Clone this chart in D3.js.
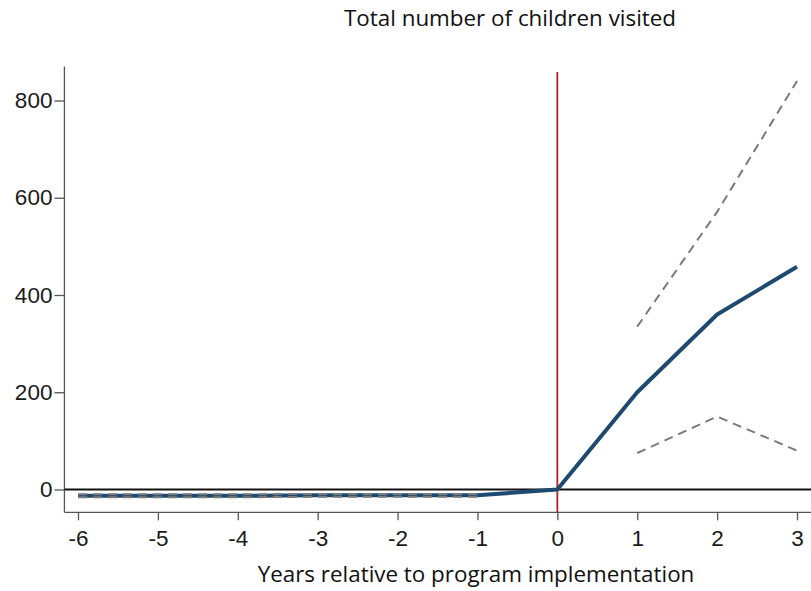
<!DOCTYPE html>
<html>
<head>
<meta charset="utf-8">
<script src="https://cdn.jsdelivr.net/npm/d3@7/dist/d3.min.js"></script>
<style>
  html, body { margin: 0; padding: 0; background: #fff; }
  svg { display: block; }
</style>
</head>
<body>
<svg id="chart" width="811" height="591"></svg>
<script>
// Event-study estimates: years relative to program start
const years = [-6, -5, -4, -3, -2, -1, 0, 1, 2, 3];
const estimate = [-13, -13, -13, -12, -12, -12, 0, 200, 360, 458];
const upperCI = [-10, -10, -10, -9, -9, -9, null, 335, 571, 840];
const lowerCI = [-16, -16, -16, -15, -15, -15, null, 75, 150, 80];
const yTicks = [0, 200, 400, 600, 800];
const xTicks = [-6, -5, -4, -3, -2, -1, 0, 1, 2, 3];
const title = "Total number of children visited";
const xTitle = "Years relative to program implementation";

const svg = d3.select("#chart");
const W = 811;

const x = d3.scaleLinear().domain([-6, 3]).range([78, 797]);
const y = d3.scaleLinear().domain([0, 800]).range([489.5, 100.5]);

const plotLeft = x(-6.17), plotBottom = y(-47), plotTop = y(870);

// Axes
const yAxis = svg.append("g").attr("transform", `translate(${plotLeft},0)`)
  .call(d3.axisLeft(y).tickValues(yTicks).tickSize(10).tickPadding(2));
yAxis.select(".domain").remove();
svg.append("line").attr("x1", plotLeft).attr("x2", plotLeft).attr("y1", plotTop).attr("y2", plotBottom)
  .attr("stroke", "#555").attr("stroke-width", 1.3);

const xAxis = svg.append("g").attr("transform", `translate(0,${plotBottom})`)
  .call(d3.axisBottom(x).tickValues(xTicks).tickSize(8).tickPadding(10)
    .tickFormat(d => String(d)));
xAxis.select(".domain").remove();
svg.append("line").attr("x1", plotLeft).attr("x2", W).attr("y1", plotBottom).attr("y2", plotBottom)
  .attr("stroke", "#555").attr("stroke-width", 1.3);

svg.selectAll(".tick line").attr("stroke", "#555").attr("stroke-width", 1.3);
svg.selectAll(".tick text")
  .attr("font-family", "Liberation Sans, Arial, sans-serif")
  .attr("font-size", 22.5).attr("fill", "#1a1a1a");

// Reference lines
svg.append("line").attr("x1", plotLeft).attr("x2", W).attr("y1", y(0)).attr("y2", y(0))
  .attr("stroke", "#111").attr("stroke-width", 1.8);
svg.append("line").attr("x1", x(0)).attr("x2", x(0)).attr("y1", 72).attr("y2", plotBottom)
  .attr("stroke", "#b22222").attr("stroke-width", 1.8);

const pts = arr => years.map((yr, i) => [yr, arr[i]]);
const line = d3.line().defined(d => d[1] !== null).x(d => x(d[0])).y(d => y(d[1]));

// Point estimate
svg.append("path").datum(pts(estimate)).attr("d", line)
  .attr("fill", "none").attr("stroke", "#1d4a6e").attr("stroke-width", 4)
  .attr("stroke-linejoin", "round");

// Confidence bounds
[upperCI, lowerCI].forEach(ci => {
  svg.append("path").datum(pts(ci)).attr("d", line)
    .attr("fill", "none").attr("stroke", "#7a7a7a").attr("stroke-width", 2)
    .attr("stroke-dasharray", "9,6");
});

// Titles
svg.append("text").attr("x", 510).attr("y", 26).attr("text-anchor", "middle")
  .attr("font-family", "Open Sans, Noto Sans, sans-serif").attr("font-size", 22.4)
  .attr("fill", "#111").text(title);
svg.append("text").attr("x", 476).attr("y", 582).attr("text-anchor", "middle")
  .attr("font-family", "Open Sans, Noto Sans, sans-serif").attr("font-size", 22.4)
  .attr("fill", "#111").text(xTitle);
</script>
</body>
</html>
